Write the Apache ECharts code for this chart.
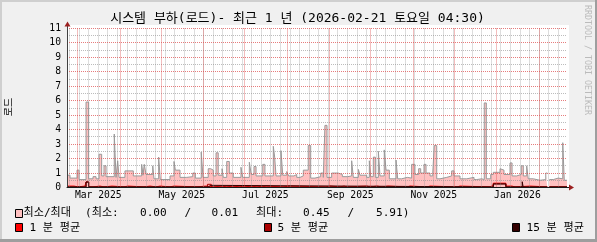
<!DOCTYPE html>
<html><head><meta charset="utf-8">
<script src="https://cdn.jsdelivr.net/npm/echarts@6/dist/echarts.min.js"></script>
<style>html,body{margin:0;padding:0;background:#f0f0f0}#c{width:597px;height:242px}</style>
</head><body><div id="c"></div>
<script>
const FONT = "'DejaVu Sans Mono','Noto Sans CJK KR',monospace";
const titleText = '시스템 부하(로드)- 최근 1 년 (2026-02-21 토요일 04:30)';
const yUnit = '로드';
const watermark = 'RRDTOOL / TOBI OETIKER';
const xLabels = ['Mar 2025', 'May 2025', 'Jul 2025', 'Sep 2025', 'Nov 2025', 'Jan 2026'];
const monthNames = ['Jan','Feb','Mar','Apr','May','Jun','Jul','Aug','Sep','Oct','Nov','Dec'];
const yMajor = [1,2,3,4,5,6,7,8,9,10,11];
const yMinor = [0.5,1.5,2.5,3.5,4.5,5.5,6.5,7.5,8.5,9.5,10.5];

// days after 2025-02-21 04:30 (graph start); each value holds until the next day entry
const maxDays = [0,2.2,7.3,8.8,13.9,15.8,19.0,21.2,23.4,25.3,
  27.0,28.5,34.5,35.8,37.0,38.0,42.3,48.4,54.5,55.5,
  56.4,57.7,62.6,63.5,66.9,68.1,75.2,78.1,79.1,82.5,
  87.4,91.8,93.7,98.0,99.3,103.1,104.9,106.8,108.8,110.4,
  113.2,114.1,116.6,118.5,121.4,127.0,128.3,133.1,134.5,136.5,
  138.0,142.9,144.5,150.6,151.6,152.6,156.2,157.5,160.4,161.8,
  165.7,167.7,170.1,172.5,176.1,177.9,181.0,185.2,187.1,188.3,
  189.8,193.2,198.0,201.0,204.9,207.8,209.0,212.7,213.9,218.8,
  220.7,221.7,223.6,225.1,227.3,228.5,231.6,232.9,235.3,240.2,
  241.4,244.3,248.4,251.6,254.0,256.7,258.2,260.6,262.1,265.0,
  267.0,268.1,269.9,272.3,277.2,280.8,282.5,286.9,291.8,297.1,
  299.1,302.7,304.6,306.1,309.3,311.2,316.1,317.3,319.0,323.4,
  324.9,328.3,331.6,333.1,335.6,336.7,340.4,345.3,349.5,350.6,
  350.6,352.1,355.0,358.6,361.9,363.0,365];
const maxVals = [0.85,0.65,1.2,0.55,5.91,0.6,0.75,0.6,2.3,0.8,
  1.5,0.75,3.7,0.7,1.85,0.7,1.15,0.8,1.6,0.85,
  1.6,0.9,1.5,0.6,2.1,0.55,0.8,1.8,1.2,0.7,
  0.75,1.0,0.65,2.45,0.7,1.3,1.2,0.8,2.4,0.85,
  1.3,0.7,1.8,1.0,0.7,1.4,0.7,1.75,0.9,1.45,
  0.8,1.6,0.8,2.85,2.1,0.8,2.55,0.85,1.1,0.8,
  0.9,0.7,0.8,1.2,2.9,0.65,0.75,1.0,0.7,4.3,
  0.7,1.0,0.9,0.75,0.8,1.85,0.7,1.25,0.85,0.7,
  1.85,0.75,2.1,0.7,2.5,0.8,2.6,1.2,0.6,1.9,
  0.6,0.7,0.65,1.6,0.9,1.3,1.0,1.6,1.0,0.8,
  1.0,2.9,0.6,0.7,0.8,1.15,0.8,0.6,0.7,0.55,
  0.6,0.55,5.85,0.6,0.9,1.05,1.3,1.2,0.9,1.7,
  0.8,0.9,1.5,0.8,1.5,0.6,0.5,0.55,1.0,1.0,
  null,0.55,0.65,0.6,3.1,0.5,0.5];

const avg1Days = [0,5.1,8,13.1,13.9,15.8,19,24.1,27,32.9,
  41.6,44.5,56.2,60.6,65,67.9,75.2,78.1,94.9,101.5,
  106.8,113.2,116.6,121,126.3,129.2,135,138.7,142.4,145.4,
  157.7,162.8,189,192,199.3,202.3,204.4,219,221.2,226.3,
  229.9,234.3,248.2,250.4,262.8,265,284.7,286.9,308.8,311.2,
  320.4,324.8,327.1,338.1,350.6,350.6,352.1,365];
const avg1Vals = [0.1,0.04,0.1,0.04,0.38,0.04,0.1,0.04,0.1,0.04,
  0.1,0.04,0.1,0.04,0.1,0.04,0.1,0.04,0.1,0.04,
  0.1,0.04,0.1,0.04,0.1,0.04,0.1,0.04,0.1,0.04,
  0.1,0.04,0.1,0.04,0.1,0.04,0.1,0.04,0.1,0.04,
  0.1,0.04,0.1,0.04,0.1,0.04,0.1,0.04,0.15,0.3,
  0.1,0.04,0.1,0.04,0.04,null,0.04,0.04];
const avg5Days = [0,13.9,15.8,102.5,105.3,311.2,320.4,350.6,350.6,352.1,365];
const avg5Vals = [0.04,0.38,0.04,0.22,0.04,0.26,0.04,0.04,null,0.04,0.04];
const avg15Days = [0,13.9,15.8,103,105,311.2,320.4,332.3,333,350.6,350.6,352.1,365];
const avg15Vals = [0.04,0.38,0.04,0.15,0.04,0.24,0.04,0.4,0.04,0.04,null,0.04,0.04];

const minStats = [0.00, 0.01];   // 최소: min / avg
const maxStats = [0.45, 5.91];   // 최대: avg / max

const DAY = 86400000;
const T0 = Date.UTC(2025, 1, 21, 4, 30);
const T1 = T0 + 365 * DAY;
const toPairs = (days, vals) => days.map((d, i) => [T0 + d * DAY, vals[i]]);

const monthTs = [];
for (let m = 2; m <= 13; m++) monthTs.push(Date.UTC(2025, m, 1));
const weekTs = [];
for (let t = Date.UTC(2025, 1, 23); t < T1; t += 7 * DAY) weekTs.push(t);
const labelTs = xLabels.map(s => {
  const [mn, yr] = s.split(' ');
  return Date.UTC(+yr, monthNames.indexOf(mn), 1) + 15 * DAY;
});

const chart = echarts.init(document.getElementById('c'), null, {renderer: 'canvas', width: 597, height: 242});
const GRAY = 'rgba(143,143,143,0.6)';
const RED = 'rgba(222,80,80,0.75)';
const fontPx = s => s + "px " + FONT;

// grid lines through the axes' own scales, snapped to pixel centres like rrdtool
function gridSeries(name, data, color, vertical, z) {
  return {
    name: name, type: 'custom', z: z, silent: true, clip: false, data: data,
    renderItem: (params, api) => {
      const cs = params.coordSys;
      if (vertical) {
        const x = Math.floor(api.coord([api.value(0), 0])[0]) + 0.5;
        return {type: 'line', shape: {x1: x, y1: cs.y, x2: x, y2: cs.y + cs.height},
          style: {stroke: color, lineWidth: 1, lineDash: [1, 1], fill: null}};
      }
      const y = Math.floor(api.coord([T0, api.value(1)])[1]) + 0.5;
      return {type: 'line', shape: {x1: cs.x, y1: y, x2: cs.x + cs.width, y2: y},
        style: {stroke: color, lineWidth: 1, lineDash: [1, 1], fill: null}};
    }
  };
}

const txt = (text, x, y, size, extra) => Object.assign({
  type: 'text', x: x, y: y, z: 10, silent: true,
  style: {text: text, font: fontPx(size), fill: '#000', align: 'left', verticalAlign: 'middle'}
}, extra || {});
const box = (x, y, fill) => ({type: 'rect', z: 10, silent: true, shape: {x: x, y: y, width: 7, height: 8},
  style: {fill: fill, stroke: '#000', lineWidth: 1}});

const option = {
  animation: false,
  backgroundColor: '#F0F0F0',
  grid: {left: 67, right: 30, top: 28.5, bottom: 54.5, containLabel: false, outerBoundsMode: 'none'},
  xAxis: {type: 'value', min: T0, max: T1, z: 7, position: 'bottom',
    axisLine: {show: true, lineStyle: {color: '#1a1a1a', width: 1}},
    axisTick: {show: false},
    axisLabel: {customValues: labelTs, fontFamily: FONT, fontSize: 9.7, color: '#000', margin: 3,
      formatter: v => xLabels[labelTs.indexOf(v)] || ''},
    splitLine: {show: false}},
  yAxis: {type: 'value', min: 0, max: 11, interval: 1, z: 7,
    axisLine: {show: true, lineStyle: {color: '#404040', width: 1}},
    axisTick: {show: false},
    axisLabel: {fontFamily: FONT, fontSize: 9.7, color: '#000', margin: 6},
    splitLine: {show: false}},
  series: [
    {name: '최소/최대', type: 'line', step: 'end', data: toPairs(maxDays, maxVals), symbol: 'none',
      silent: true, connectNulls: false, z: 2,
      lineStyle: {color: '#9A9A9A', width: 1}, areaStyle: {color: '#FFC0C0', opacity: 1}},
    {name: '1 분 평균', type: 'line', step: 'end', data: toPairs(avg1Days, avg1Vals), symbol: 'none',
      silent: true, z: 3, lineStyle: {color: '#FF0000', width: 1}},
    {name: '5 분 평균', type: 'line', step: 'end', data: toPairs(avg5Days, avg5Vals), symbol: 'none',
      silent: true, z: 3, lineStyle: {color: '#AA0000', width: 1}},
    {name: '15 분 평균', type: 'line', step: 'end', data: toPairs(avg15Days, avg15Vals), symbol: 'none',
      silent: true, z: 3, lineStyle: {color: '#330000', width: 1}},
    gridSeries('weekGrid', weekTs.map(t => [t, 0]), GRAY, true, 5),
    gridSeries('halfGrid', yMinor.map(v => [T0, v]), GRAY, false, 5),
    gridSeries('monthGrid', monthTs.map(t => [t, 0]), RED, true, 6),
    gridSeries('unitGrid', yMajor.map(v => [T0, v]), RED, false, 6)
  ],
  graphic: {elements: [
    {type: 'rect', z: 0, silent: true, shape: {x: 67, y: 25, width: 502, height: 163}, style: {fill: '#FFFFFF'}},
    {type: 'rect', z: 10, silent: true, shape: {x: 0, y: 0, width: 597, height: 2}, style: {fill: '#CFCFCF'}},
    {type: 'rect', z: 10, silent: true, shape: {x: 0, y: 0, width: 2, height: 242}, style: {fill: '#CFCFCF'}},
    {type: 'rect', z: 10, silent: true, shape: {x: 0, y: 239, width: 597, height: 3}, style: {fill: '#9E9E9E'}},
    {type: 'rect', z: 10, silent: true, shape: {x: 595, y: 0, width: 2, height: 242}, style: {fill: '#9E9E9E'}},
    // axis arrows
    {type: 'line', z: 10, silent: true, shape: {x1: 67.5, y1: 28.5, x2: 67.5, y2: 25}, style: {stroke: '#404040', lineWidth: 1}},
    {type: 'polygon', z: 10, silent: true, shape: {points: [[64.5, 26.5], [70.5, 26.5], [67.5, 21.5]]}, style: {fill: '#9B2020'}},
    {type: 'line', z: 10, silent: true, shape: {x1: 567, y1: 187.5, x2: 570, y2: 187.5}, style: {stroke: '#1a1a1a', lineWidth: 1}},
    {type: 'polygon', z: 10, silent: true, shape: {points: [[569, 184.5], [569, 190.5], [574, 187.5]]}, style: {fill: '#9B2020'}},
    // title, unit, watermark
    txt(titleText, 297.5, 18.5, 13, {style: {text: titleText, font: fontPx(13), fill: '#000', align: 'center', verticalAlign: 'middle'}}),
    txt(yUnit, 9, 107, 10, {rotation: Math.PI / 2, style: {text: yUnit, font: fontPx(10), fill: '#000', align: 'center', verticalAlign: 'middle'}}),
    txt(watermark, 587, 5, 8.3, {rotation: -Math.PI / 2, style: {text: watermark, font: fontPx(8.3), fill: '#BBBBBB', align: 'left', verticalAlign: 'middle'}}),
    // legend row 1
    box(15.5, 209.5, '#FFC0C0'),
    txt('최소/최대', 23.5, 213.5, 11.1),
    txt('(최소:', 85, 213.5, 11.1),
    txt(minStats[0].toFixed(2), 140, 213.5, 11.1),
    txt('/', 184.5, 213.5, 11.1),
    txt(minStats[1].toFixed(2), 211.5, 213.5, 11.1),
    txt('최대:', 256, 213.5, 11.1),
    txt(maxStats[0].toFixed(2), 303, 213.5, 11.1),
    txt('/', 347.5, 213.5, 11.1),
    txt(maxStats[1].toFixed(2) + ')', 376, 213.5, 11.1),
    // legend row 2
    box(15.5, 223.5, '#FF0000'),
    txt('1 분 평균', 29.5, 228, 11.1),
    box(264.5, 223.5, '#AA0000'),
    txt('5 분 평균', 277.5, 228, 11.1),
    box(512.5, 223.5, '#330000'),
    txt('15 분 평균', 526.5, 228, 11.1)
  ]}
};
chart.setOption(option);
</script>
</body></html>
